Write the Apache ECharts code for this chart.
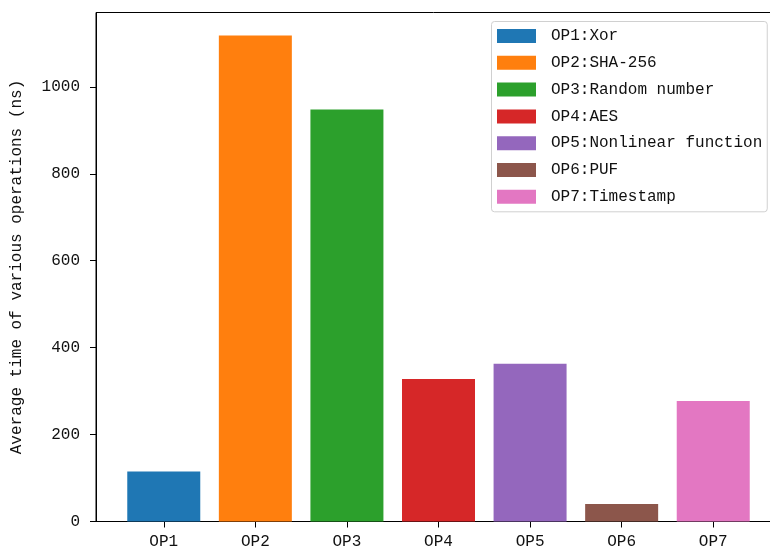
<!DOCTYPE html>
<html>
<head>
<meta charset="utf-8">
<script src="https://cdn.jsdelivr.net/npm/echarts@6/dist/echarts.min.js"></script>
<style>
  html, body { margin: 0; padding: 0; background: #fff; }
  #chart { width: 770px; height: 552px; }
</style>
</head>
<body>
<div id="chart"></div>
<script>
// Operation short names (x tick labels) and their legend descriptions
const categories = ['OP1', 'OP2', 'OP3', 'OP4', 'OP5', 'OP6', 'OP7'];
const legendNames = ['OP1:Xor', 'OP2:SHA-256', 'OP3:Random number', 'OP4:AES',
                     'OP5:Nonlinear function', 'OP6:PUF', 'OP7:Timestamp'];
// Average time per operation (ns)
const avgTimes = [115, 1118, 948, 328, 363, 40, 277];
// Y axis tick values
const yTicks = [0, 200, 400, 600, 800, 1000];
const barColors = ['#1f77b4', '#ff7f0e', '#2ca02c', '#d62728', '#9467bd', '#8c564b', '#e377c2'];

const FONT = 'Liberation Mono';
const TEXT = '#111';

const chart = echarts.init(document.getElementById('chart'), null, { renderer: 'canvas' });

const series = categories.map((c, i) => ({
  name: legendNames[i],
  type: 'bar',
  data: [[i, avgTimes[i]]],
  barWidth: 73,
  barGap: '-100%',
  itemStyle: { color: barColors[i] },
  emphasis: { disabled: true }
}));

chart.setOption({
  animation: false,
  backgroundColor: '#fff',
  grid: {
    left: 96, top: 12.5, width: 685, height: 509,
    outerBoundsMode: 'none',
    containLabel: false,
    show: true, borderColor: '#000', borderWidth: 1, backgroundColor: 'transparent'
  },
  xAxis: {
    type: 'value',
    min: -0.74, max: 6.74,
    splitLine: { show: false },
    axisLine: { show: true, onZero: false, lineStyle: { color: '#000', width: 1 } },
    axisTick: { show: true, customValues: categories.map((c, i) => i), length: 6, lineStyle: { color: '#000' } },
    axisLabel: {
      customValues: categories.map((c, i) => i),
      formatter: v => categories[Math.round(v)],
      fontFamily: FONT, fontSize: 16, color: TEXT, margin: 12
    }
  },
  yAxis: {
    type: 'value',
    min: 0, max: 1171,
    name: 'Average time of various operations (ns)',
    nameLocation: 'middle',
    nameRotate: 90,
    nameGap: 71,
    nameTextStyle: { fontFamily: FONT, fontSize: 16, color: TEXT },
    splitLine: { show: false },
    axisLine: { show: true, onZero: false, lineStyle: { color: '#000', width: 1 } },
    axisTick: { show: true, customValues: yTicks, length: 6, lineStyle: { color: '#000' } },
    axisLabel: {
      customValues: yTicks,
      formatter: v => String(v),
      fontFamily: FONT, fontSize: 16, color: TEXT, margin: 16
    }
  },
  legend: {
    show: true,
    orient: 'vertical',
    left: 491.5, top: 21.5,
    width: 276,
    data: legendNames,
    icon: 'rect',
    itemWidth: 39, itemHeight: 14,
    itemGap: 10.8,
    padding: [6.5, 5, 7, 5.5],
    backgroundColor: 'rgba(255,255,255,0.8)',
    borderColor: '#d0d0d0', borderWidth: 1, borderRadius: 3,
    selectedMode: false,
    textStyle: { fontFamily: FONT, fontSize: 16, color: TEXT, lineHeight: 14, padding: [0, 0, 0, 10] }
  },
  series: series
});
</script>
</body>
</html>
